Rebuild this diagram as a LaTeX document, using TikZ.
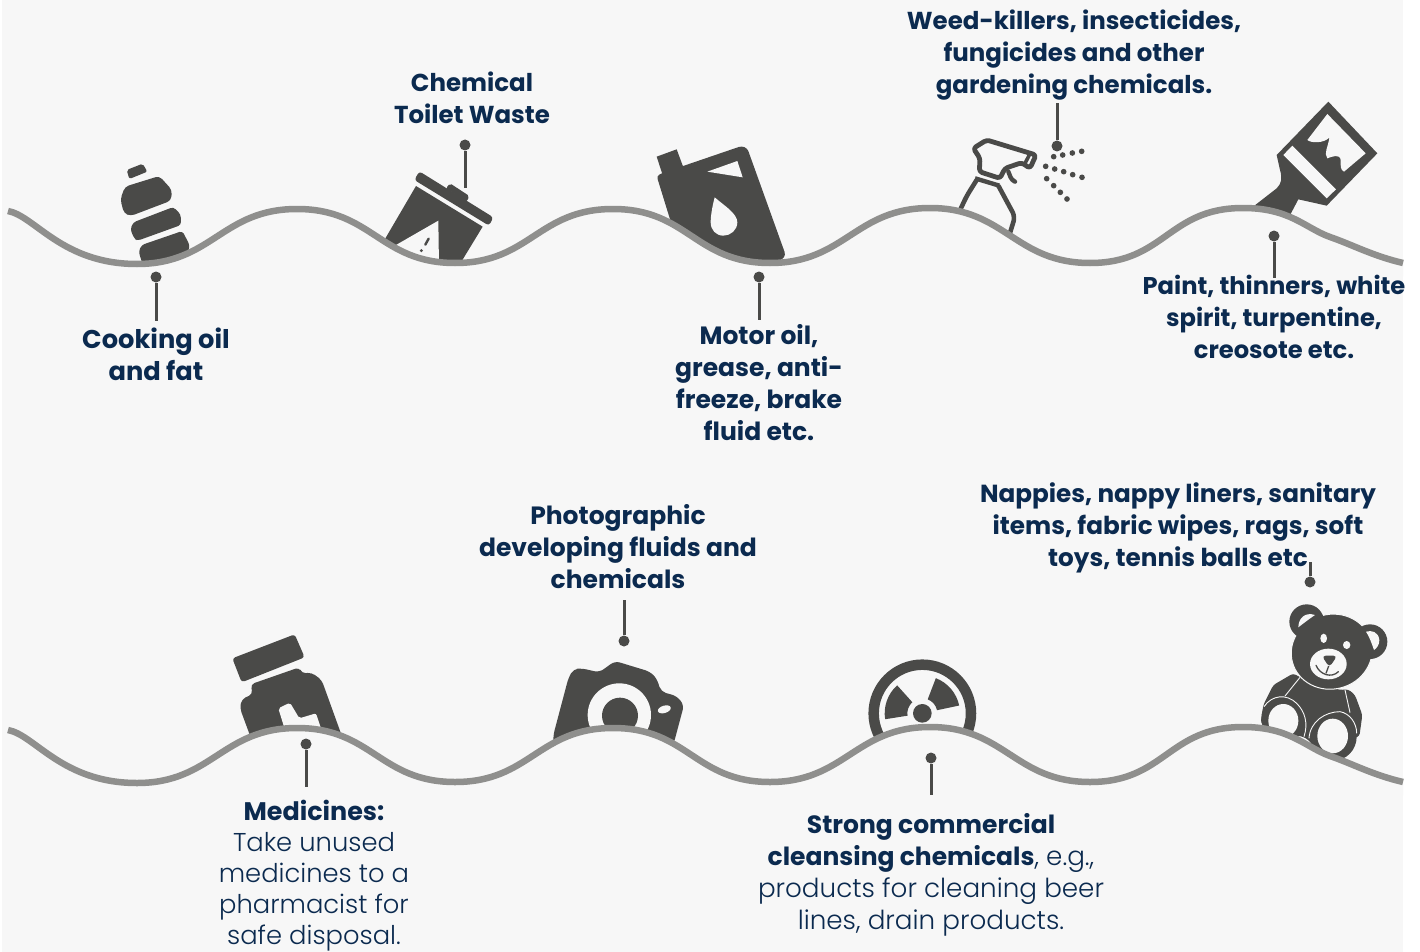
\documentclass[tikz,border=0pt]{standalone}
\usepackage{fontspec}
\setmainfont{Poppins}
\newfontfamily\lightf{Poppins Light}
\definecolor{bgc}{HTML}{F7F7F7}
\definecolor{ink}{HTML}{4A4A48}
\definecolor{wave}{HTML}{8F8F8D}
\definecolor{navy}{HTML}{0B2A4F}
\newcommand{\bfs}[1]{\fontsize{#1}{32}\selectfont\bfseries}
\newcommand{\lts}{\fontsize{26.2}{32}\lightf}
\tikzset{
 lab/.style={align=center,text=navy,font=\bfs{25},inner sep=0pt,anchor=north},
 labl/.style={align=center,text=navy,font=\lts,inner sep=0pt,anchor=north},
 pin/.style={circle,fill=ink,inner sep=0pt,minimum size=11pt},
 lead/.style={draw=ink,line width=3pt},
 wavel/.style={draw=wave,line width=6.5pt},
 ic/.style={fill=ink},
 ho/.style={fill=bgc},
}
\def\wavepath{(0,0) .. controls (27,5) and (54,53) .. (129,53)
 .. controls (204,53) and (214,-2) .. (289,-2)
 .. controls (364,-2) and (372,52) .. (447,52)
 .. controls (522,52) and (530,-2) .. (605,-2)
 .. controls (680,-2) and (687,52) .. (762,52)
 .. controls (837,52) and (847,-3) .. (922,-3)
 .. controls (997,-3) and (1007,52) .. (1082,52)
 .. controls (1157,52) and (1160,-3) .. (1235,-3)
 .. controls (1282,-3) and (1297,17) .. (1322,26)
 .. controls (1345,34) and (1365,45) .. (1395,52)}
\begin{document}
\begin{tikzpicture}[x=1pt,y=-1pt]
\useasboundingbox (0,0) rectangle (1420,952);
\fill[white] (0,0) rectangle (1420,952);
\fill[bgc] (2,0) rectangle (1403,952);
% --- top row icons ---
\begin{scope}[shift={(90,130)},scale=1/3]
 \fill[ic,rounded corners=2pt] (110,120)--(158,101)--(172,125)--(118,147)--cycle;
 \fill[ic,rounded corners=4pt] (122,258)--(243,212)--(246,180)--(208,138)--(105,170)--(91,208)--(102,250)--cycle;
 \fill[ic,rounded corners=3pt] (143,332)--(273,285)--(272,253)--(250,231)--(130,277)--(121,298)--(133,326)--cycle;
 \fill[ic,rounded corners=3pt] (160,410)--(290,385)--(299,345)--(277,303)--(155,345)--(146,365)--cycle;
 % toilet
 \fill[ic,rounded corners=3pt] (988,124)--(1210,262)--(1197,287)--(973,150)--cycle;
 \fill[ic,rounded corners=2pt] (1080,160)--(1138,198)--(1130,215)--(1068,175)--cycle;
 \fill[ic] (978,168)--(1178,290)--(1105,410)--(900,410)--(885,327)--cycle;
 \fill[ho] (1045,272)--(918,345)--(1047,410)--cycle;
 \draw[ink,line width=2.4pt,line cap=round] (1016,326)--(1006,344);
 \fill[ic] (994,362) circle[radius=5];
\end{scope}
\begin{scope}[shift={(640,90)},scale=1/3]
 \fill[ic] (50,200)--(110,178)--(130,232)--(68,255)--cycle;
 \fill[ic,rounded corners=3pt] (50,258)--(65,250)--(305,168)--(322,175)--(437,495)--(425,510)--(340,530)--(100,420)--cycle;
 \fill[ho] (202,245)--(292,213)--(308,262)--cycle;
 \fill[ho] (224,322) .. controls (250,345) and (292,370) .. (292,397)
   .. controls (292,420) and (272,437) .. (250,437)
   .. controls (228,437) and (212,420) .. (212,397)
   .. controls (212,375) and (218,345) .. (224,322) -- cycle;
 % spray bottle
 \draw[ink,line width=4.8pt,line join=round,rounded corners=3pt] (1040,150)--(1188,195)--(1170,235)--(1145,218)--(1095,235)--(1080,265)--(1018,245)--(1020,205)--(1000,175)--cycle;
 \draw[ink,line width=3.6pt] (1155,220)--(1168,195);
 \draw[ink,line width=4.4pt,line cap=round,rounded corners=3pt] (1105,245)--(1115,270)--(1125,275);
 \draw[ink,line width=4.4pt] (1005,265)--(1078,287);
 \draw[ink,line width=4.6pt,rounded corners=5pt] (1010,270)--(980,318)--(958,365);
 \draw[ink,line width=4.6pt,rounded corners=5pt] (1075,287)--(1125,380)--(1105,445);
 \foreach \px/\py in {1241/200,1268/195,1297/189,1325/184,1217/229,1244/237,1271/245,1298/254,1326/262,1220/266,1241/287,1261/307,1281/327}
  \fill[ic] (\px,\py) circle[radius=8.5];
\end{scope}
\begin{scope}[shift={(1220,90)},scale=1/3]
 \fill[ic] (170,195)--(325,35)--(472,190)--(320,347)--(235,328)--(205,385)--(80,365)--(170,295) .. controls (185,280) and (187,265) .. (180,240) -- cycle;
 \fill[ho] (190,195)--(217,167)--(348,298)--(320,325)--cycle;
 \fill[ho] (322,72)--(437,190)--(372,245) .. controls (360,240) and (362,225) .. (362,210)
   .. controls (360,190) and (335,200) .. (322,205) .. controls (310,190) and (325,170) .. (328,143)
   .. controls (310,160) and (275,160) .. (262,150) -- cycle;
\end{scope}
% --- bottom row icons ---
\begin{scope}[shift={(210,620)},scale=1/3]
 \fill[ic,rounded corners=3pt] (67,115)--(254,43)--(284,112)--(95,187)--cycle;
 \fill[ic,rounded corners=4pt] (122,193)--(268,142)--(275,160)--(305,158)--(335,180)--(400,360)--(125,360)--(90,265)--(95,238)--(128,222)--cycle;
 \fill[ho,rounded corners=2pt] (205,265)--(240,248)--(268,295)--(318,280)--(338,340)--(228,340)--cycle;
 % camera
 \fill[ic,rounded corners=5pt] (1030,375)--(1030,345)--(1075,175)--(1090,147)--(1115,145)--(1168,157)--(1215,123)--(1320,155)--(1340,175)--(1353,215)--(1400,228)--(1422,255)--(1390,375)--cycle;
 \fill[ho] (1228,285) circle[radius=95];
 \fill[ic] (1230,287) circle[radius=54];
 \fill[ho,rotate around={17:(1363,268)}] (1363,268) ellipse[x radius=20,y radius=11];
\end{scope}
\begin{scope}[shift={(850,640)},scale=1/3]
 \draw[ink,line width=10.5pt] (217,220) circle[radius=146];
 \begin{scope}[shift={(217,220)}]
  \foreach \a/\b in {-69/57,-189/57,51/78}
   \fill[ic] (\a:113) arc[start angle=\a,delta angle=\b,radius=113] -- ({\a+\b}:45) arc[start angle={\a+\b},delta angle={-\b},radius=45] -- cycle;
  \fill[ic] (0,0) circle[radius=28];
 \end{scope}
\end{scope}
\begin{scope}[shift={(1240,590)},scale=1/3]
 % silhouette of arms, torso, feet
 \fill[ic,rounded corners=3pt] (62,400)--(70,345)--(100,285)--(160,250)--(180,262)--(300,300)--(325,298)--(345,315)--(367,375)--(358,440)--(345,440)--(330,480)--(280,512)--(240,490)--(205,450)--(190,440)--(120,430)--cycle;
 \fill[ic] (130,385) ellipse[x radius=66,y radius=70];
 \fill[ic] (280,440) ellipse[x radius=70,y radius=72];
 \fill[ho] (130,392) ellipse[x radius=45,y radius=50];
 \fill[ho] (278,438) ellipse[x radius=46,y radius=52];
 \draw[bgc,line width=0.9pt] (72,350) .. controls (95,315) and (140,310) .. (170,340) .. controls (195,365) and (205,400) .. (192,440);
 \draw[bgc,line width=0.9pt] (207,445) .. controls (210,395) and (255,365) .. (300,365) .. controls (330,370) and (350,400) .. (350,430);
 \draw[bgc,line width=0.9pt] (135,318) -- (180,262);
 \draw[bgc,line width=0.9pt] (315,300) -- (330,368);
 % head
 \fill[ic,draw=bgc,line width=1pt,rotate around={15:(275,185)}] (275,185) ellipse[x radius=122,y radius=112];
 \fill[ic] (200,95) circle[radius=52];
 \fill[ic] (390,155) circle[radius=52];
 \fill[ho] (175,112) .. controls (175,85) and (195,65) .. (225,75) .. controls (210,85) and (190,100) .. (175,112) -- cycle;
 \fill[ho] (378,125) .. controls (395,120) and (415,125) .. (418,150) .. controls (418,165) and (410,175) .. (402,180) .. controls (395,160) and (388,140) .. (378,125) -- cycle;
 \fill[ho] (265,222) ellipse[x radius=55,y radius=46];
 \fill[ho] (251,145) ellipse[x radius=10,y radius=14];
 \fill[ho] (320,165) ellipse[x radius=11,y radius=12];
 \fill[ic,rounded corners=4pt] (245,197)--(292,197)--(268,232)--cycle;
 \draw[ink,line width=1.3pt] (266,228)--(258,250);
 \draw[ink,line width=1.3pt,line cap=round] (228,226) .. controls (240,255) and (275,265) .. (295,245);
\end{scope}
% --- cover below the waves, then waves ---
\begin{scope}[shift={(8,211)}]
 \fill[bgc] \wavepath -- (1395,65) -- (0,65) -- cycle;
 \draw[wavel] \wavepath;
\end{scope}
\begin{scope}[shift={(8,730)}]
 \fill[bgc] \wavepath -- (1395,65) -- (0,65) -- cycle;
 \draw[wavel] \wavepath;
\end{scope}
% --- labels ---
\node[lab,font=\bfs{25.7}] (t1) at (156,328) {Cooking oil\\and fat};
\node[lab,font=\bfs{24.5}] (t2) at (472,72) {Chemical\\Toilet Waste};
\node[lab] (t3) at (759,324) {Motor oil,\\grease, anti-\\freeze, brake\\fluid etc.};
\node[lab,font=\bfs{24.5}] (t4) at (1074,10) {Weed-killers, insecticides,\\fungicides and other\\gardening chemicals.};
\node[lab,font=\bfs{24.2}] (t5) at (1274,275) {Paint, thinners, white\\spirit, turpentine,\\creosote etc.};
\node[lab,font=\bfs{25.4}] (t6a) at (314,800) {Medicines:};
\node[labl,font=\fontsize{25.8}{31}\lightf] (t6) at (314,832) {Take unused\\medicines to a\\pharmacist for\\safe disposal.};
\node[lab] (t7) at (618,504) {Photographic\\developing fluids and\\chemicals};
\node[labl] (t8) at (931,813) {{\normalfont\bfs{25}Strong commercial}\\{\normalfont\bfs{25}cleansing chemicals}, e.g.,\\products for cleaning beer\\lines, drain products.};
\node[lab,font=\bfs{24.7}] (t9) at (1178,483) {Nappies, nappy liners, sanitary\\items, fabric wipes, rags, soft\\toys, tennis balls etc};
% --- pins and leaders ---
\node[pin] (p1) at (156,277) {}; \coordinate (e1) at (156,321);
\node[pin] (p2) at (465,145) {}; \coordinate (e2) at (465,188);
\node[pin] (p3) at (759,277) {}; \coordinate (e3) at (759,320);
\node[pin] (p4) at (1057,146) {}; \coordinate (e4) at (1057,103);
\node[pin] (p5) at (1274,236) {}; \coordinate (e5) at (1274,278);
\node[pin] (p6) at (306,744) {}; \coordinate (e6) at (306,787);
\node[pin] (p7) at (624,641) {}; \coordinate (e7) at (624,600);
\node[pin] (p8) at (931,758) {}; \coordinate (e8) at (931,795);
\node[pin] (p9) at (1310,582) {}; \coordinate (e9) at (1310,562);
\foreach \i in {1,...,9} \draw[lead] (p\i) -- (e\i);
\end{tikzpicture}
\end{document}
